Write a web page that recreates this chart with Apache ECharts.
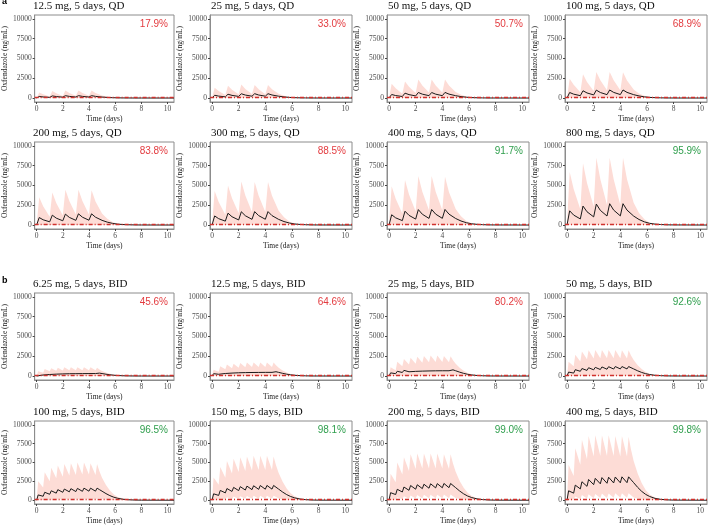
<!DOCTYPE html>
<html>
<head>
<meta charset="utf-8">
<script src="https://cdn.jsdelivr.net/npm/echarts@6/dist/echarts.min.js"></script>
<style>
  html, body { margin: 0; padding: 0; background: #fff; }
  #chart { width: 709px; height: 526px; }
</style>
</head>
<body>
<div id="chart"></div>
<script>
// tick labels
var xTicks = [0, 2, 4, 6, 8, 10];
var yTicks = [0, 2500, 5000, 7500, 10000];
var threshold = 120;

// panel a: once daily
var doseQD = ['12.5', '25', '50', '100', '200', '300', '400', '800'];
var pctQD = [17.9, 33.0, 50.7, 68.9, 83.8, 88.5, 91.7, 95.9];
var timeQD = [0, 0.2, 0.5, 1, 1.2, 1.5, 2, 2.2, 2.5, 3, 3.2, 3.5, 4, 4.2, 4.5, 5, 5.4, 5.8, 6.2, 6.6, 7, 7.5, 8, 10.5];
var medianQD = [
  [0,200,140,86, 270,189,116, 300,210,129, 300,210,129, 300,210,126,78,45,24,14,8,3,2,0],
  [0,350,245,150, 480,336,206, 540,378,232, 550,385,237, 550,385,231,143,83,44,25,14,6,3,0],
  [0,450,315,194, 620,434,267, 700,490,301, 700,490,301, 710,497,298,185,107,57,32,18,7,4,0],
  [0,700,490,301, 920,644,396, 1000,700,430, 1020,714,439, 1020,714,428,265,153,82,46,26,10,5,0],
  [0,950,665,409, 1250,875,538, 1380,966,593, 1420,994,611, 1420,994,596,369,213,114,64,36,14,7,0],
  [0,1150,805,495, 1500,1050,645, 1680,1176,722, 1700,1190,731, 1700,1190,714,442,255,136,77,43,17,9,0],
  [0,1300,910,559, 1750,1225,753, 1950,1365,839, 1970,1379,847, 1970,1379,827,512,296,158,89,49,20,10,0],
  [0,1800,1260,774, 2400,1680,1032, 2650,1855,1140, 2700,1890,1161, 2700,1890,1134,702,405,216,122,68,27,14,0]
];
var upperQD = [
  [0,700,476,210, 900,612,270, 950,646,285, 950,646,285, 950,646,314,171,81,33,14,6,3,1,0],
  [0,1300,884,390, 1550,1054,465, 1700,1156,510, 1650,1122,495, 1650,1122,545,297,140,58,25,10,5,2,0],
  [0,1800,1224,540, 2100,1428,630, 2350,1598,705, 2350,1598,705, 2350,1598,776,423,200,82,35,14,7,2,0],
  [0,2450,1666,735, 3000,2040,900, 3300,2244,990, 3300,2244,990, 3250,2210,1073,585,276,114,49,20,10,3,0],
  [0,3500,2380,1050, 4100,2788,1230, 4450,3026,1335, 4450,3026,1335, 4400,2992,1452,792,374,154,66,26,13,4,0],
  [0,4300,2924,1290, 5000,3400,1500, 5500,3740,1650, 5450,3706,1635, 5450,3706,1799,981,463,191,82,33,16,5,0],
  [0,4900,3332,1470, 5700,3876,1710, 6200,4216,1860, 6200,4216,1860, 6100,4148,2013,1098,519,214,92,37,18,6,0],
  [0,6700,4556,2010, 7800,5304,2340, 8500,5780,2550, 8500,5780,2550, 8500,5780,2805,1530,723,298,128,51,26,9,0]
];

// panel b: twice daily
var doseBID = ['6.25', '12.5', '25', '50', '100', '150', '200', '400'];
var pctBID = [45.6, 64.6, 80.2, 92.6, 96.5, 98.1, 99.0, 99.8];
var timeBID = [0,0.12,0.5,0.62,1,1.12,1.5,1.62,2,2.12,2.5,2.62,3,3.12,3.5,3.62,4,4.12,4.5,4.62,4.8,5,5.3,5.6,5.9,6.2,6.6,7,7.5,8,10.5];
var medianBID = [
  [0,180,135,260,195,320,240,360,270,390,293,400,300,410,308,420,315,420,315,420, 370,315,231,160,105,67,34,17,6,3,0],
  [0,300,225,430,323,500,375,550,413,580,435,600,450,610,458,620,465,620,465,620, 546,465,341,236,155,99,50,25,9,4,0],
  [0,400,300,600,450,720,540,790,593,830,623,860,645,880,660,890,668,890,668,890, 783,668,490,338,223,142,71,36,13,5,0],
  [0,500,375,800,600,950,713,1050,788,1100,825,1150,863,1180,885,1200,900,1200,900,1200, 1056,900,660,456,300,192,96,48,18,7,0],
  [0,700,525,1050,788,1250,938,1400,1050,1480,1110,1530,1148,1570,1178,1600,1200,1600,1200,1600, 1408,1200,880,608,400,256,128,64,24,10,0],
  [0,850,638,1300,975,1550,1163,1700,1275,1800,1350,1870,1403,1920,1440,1950,1463,1960,1470,1960, 1725,1470,1078,745,490,314,157,78,29,12,0],
  [0,1000,750,1450,1088,1750,1313,1950,1463,2050,1538,2120,1590,2180,1635,2200,1650,2220,1665,2220, 1954,1665,1221,844,555,355,178,89,33,13,0],
  [0,1250,938,2000,1500,2450,1838,2750,2063,2900,2175,3000,2250,3050,2288,3080,2310,3100,2325,3100, 2728,2325,1705,1178,775,496,248,124,47,19,0]
];
var upperBID = [
  [0,600,408,900,612,1000,680,1050,714,1100,748,1100,748,1100,748,1100,748,1100,748,1050, 840,651,441,284,168,95,47,21,8,3,0],
  [0,800,544,1250,850,1450,986,1550,1054,1650,1122,1700,1156,1700,1156,1700,1156,1700,1156,1700, 1360,1054,714,459,272,153,77,34,14,5,0],
  [0,1100,748,1800,1224,2150,1462,2300,1564,2450,1666,2550,1734,2600,1768,2600,1768,2550,1734,2500, 2000,1550,1050,675,400,225,113,50,20,8,0],
  [0,1800,1224,2700,1836,3100,2108,3250,2210,3300,2244,3300,2244,3300,2244,3300,2244,3250,2210,3250, 2600,2015,1365,878,520,293,146,65,26,10,0],
  [0,2500,1700,3700,2516,4300,2924,4600,3128,4800,3264,4900,3332,5000,3400,5000,3400,4900,3332,4800, 3840,2976,2016,1296,768,432,216,96,38,14,0],
  [0,3000,2040,4400,2992,5200,3536,5500,3740,5700,3876,5800,3944,5900,4012,5900,4012,5900,4012,5800, 4640,3596,2436,1566,928,522,261,116,46,17,0],
  [0,3500,2380,5000,3400,5700,3876,6100,4148,6200,4216,6200,4216,6200,4216,6200,4216,6100,4148,6100, 4880,3782,2562,1647,976,549,275,122,49,18,0],
  [0,4700,3196,6900,4692,8000,5440,8500,5780,8600,5848,8600,5848,8600,5848,8500,5780,8500,5780,8400, 6720,5208,3528,2268,1344,756,378,168,67,25,0]
];
// lower bound is ~0 for the small doses
var lowerBID = [
  null, null, null, null,
  [0,100,35,200,70,280,98,330,116,360,126,380,133,390,137,400,140,400,140,400, 280,160,80,40,20,8,4,0,0,0,0],
  [0,150,53,300,105,400,140,480,168,530,186,560,196,580,203,590,207,600,210,600, 420,240,120,60,30,12,6,0,0,0,0],
  [0,200,70,400,140,530,186,620,217,680,238,710,249,730,256,740,259,750,263,750, 525,300,150,75,38,15,8,0,0,0,0],
  [0,250,88,500,175,680,238,780,273,840,294,880,308,900,315,910,319,920,322,920, 644,368,184,92,46,18,9,0,0,0,0]
];

var panels = [];
for (var i = 0; i < 8; i++) {
  panels.push({ title: doseQD[i] + ' mg, 5 days, QD', pct: pctQD[i], t: timeQD, med: medianQD[i], up: upperQD[i], lo: null });
}
for (var i = 0; i < 8; i++) {
  panels.push({ title: doseBID[i] + ' mg, 5 days, BID', pct: pctBID[i], t: timeBID, med: medianBID[i], up: upperBID[i], lo: lowerBID[i] });
}

var colLeft = [32, 210, 387, 565];
var rowTop = [15, 142, 293, 421];
var W = 142, H = 87;
var serif = 'Liberation Serif';

function pairs(t, v) {
  return t.map(function (x, j) { return [x, v[j]]; });
}

var grids = [], xAxes = [], yAxes = [], series = [], titles = [];

titles.push({ text: 'a', left: 2, top: -3, padding: 0, textStyle: { fontFamily: 'Liberation Sans', fontSize: 9, fontWeight: 'bold', color: '#000' } });
titles.push({ text: 'b', left: 2, top: 276, padding: 0, textStyle: { fontFamily: 'Liberation Sans', fontSize: 9, fontWeight: 'bold', color: '#000' } });

panels.forEach(function (p, k) {
  var L = colLeft[k % 4], T = rowTop[Math.floor(k / 4)];
  grids.push({ left: L, top: T, width: W, height: H, show: true, borderColor: '#8c8c8c', borderWidth: 1 });
  xAxes.push({
    gridIndex: k, type: 'value', min: -0.15, max: 10.5,
    name: 'Time (days)', nameLocation: 'middle', nameGap: 13,
    nameTextStyle: { fontFamily: serif, fontSize: 7.5, color: '#1a1a1a' },
    axisLine: { show: true, onZero: false, lineStyle: { color: '#8c8c8c' } },
    axisTick: { show: true, length: 2, customValues: xTicks, lineStyle: { color: '#444' } },
    axisLabel: { customValues: xTicks, margin: 3, fontFamily: serif, fontSize: 7.5, color: '#4d4d4d' },
    splitLine: { show: false }
  });
  yAxes.push({
    gridIndex: k, type: 'value', min: -500, max: 10500,
    name: 'Oxfendazole (ng/mL)', nameLocation: 'middle', nameGap: 24, nameRotate: 90,
    nameTextStyle: { fontFamily: serif, fontSize: 7.5, color: '#1a1a1a' },
    axisLine: { show: true, onZero: false, lineStyle: { color: '#8c8c8c' } },
    axisTick: { show: true, length: 2, customValues: yTicks, lineStyle: { color: '#444' } },
    axisLabel: {
      customValues: yTicks, margin: 3, fontFamily: serif, fontSize: 7.5, color: '#4d4d4d',
      formatter: function (v) { return String(v); }
    },
    splitLine: { show: false }
  });

  // upper bound filled pink down to 0
  series.push({
    type: 'line', xAxisIndex: k, yAxisIndex: k, data: pairs(p.t, p.up), z: 1,
    symbol: 'none', silent: true, lineStyle: { width: 0, opacity: 0 },
    areaStyle: { color: '#fddcd6', opacity: 1 }
  });
  // lower bound: blank out what lies under it
  if (p.lo) {
    series.push({
      type: 'line', xAxisIndex: k, yAxisIndex: k, data: pairs(p.t, p.lo), z: 2,
      symbol: 'none', silent: true, lineStyle: { width: 0, opacity: 0 },
      areaStyle: { color: '#ffffff', opacity: 1 }
    });
  }
  series.push({
    type: 'line', xAxisIndex: k, yAxisIndex: k, data: pairs(p.t, p.med),
    symbol: 'none', silent: true, z: 3,
    lineStyle: { color: '#1a1a1a', width: 1 },
    markLine: {
      silent: true, symbol: 'none', label: { show: false }, z: 4,
      lineStyle: { color: '#d0312d', width: 1.3, type: [4, 2, 1, 2] },
      data: [{ yAxis: threshold }]
    }
  });

  titles.push({
    text: p.title, left: L + 1, top: T - 14, padding: 0,
    textStyle: { fontFamily: serif, fontSize: 11, fontWeight: 'normal', color: '#111' }
  });
  titles.push({
    text: p.pct.toFixed(1) + '%', right: 709 - (L + W) + 6, top: T + 4, padding: 0,
    textStyle: { fontFamily: 'Liberation Sans', fontSize: 10, fontWeight: 'normal', color: p.pct >= 90 ? '#2e9e4c' : '#e33b3f' }
  });
});

var chart = echarts.init(document.getElementById('chart'));
chart.setOption({
  animation: false,
  backgroundColor: '#fff',
  title: titles,
  grid: grids,
  xAxis: xAxes,
  yAxis: yAxes,
  series: series
});
</script>
</body>
</html>
